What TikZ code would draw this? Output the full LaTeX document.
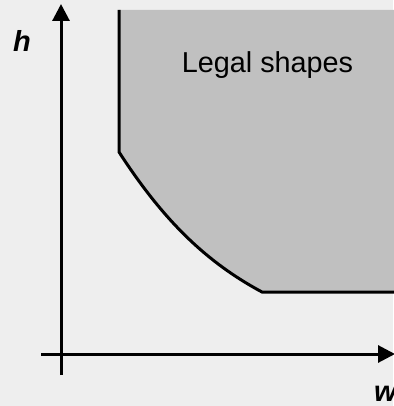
\documentclass[tikz,border=0pt]{standalone}
\usepackage{fontspec}
\setmainfont{Liberation Sans}
\usetikzlibrary{arrows.meta}
\definecolor{bg}{HTML}{EEEEEE}
\definecolor{legal}{HTML}{C0C0C0}
\tikzset{
  axis/.style={line width=3pt, -{Triangle[length=17pt,width=17pt]}},
  border/.style={line width=3pt, line join=miter},
  lbl/.style={font=\fontsize{29}{33}\selectfont\bfseries\itshape, inner sep=0pt},
  title/.style={font=\fontsize{28.8}{33}\selectfont, inner sep=0pt}
}
\begin{document}
\begin{tikzpicture}[x=1pt,y=-1pt]
\fill[bg] (0,0) rectangle (393,406);
\useasboundingbox (0,0) rectangle (393,406);
\fill[legal] (119,10) -- (119,152) .. controls (163,220) and (206,262) .. (262,292) -- (400,292) -- (400,10) -- cycle;
\coordinate (ctop) at (119,10);
\coordinate (cknee) at (119,152);
\coordinate (cfoot) at (262,292);
\coordinate (cend) at (400,292);
\draw[border] (ctop) -- (cknee) .. controls (163,220) and (206,262) .. (cfoot) -- (cend);
\coordinate (ybot) at (61,375);
\coordinate (ytop) at (61,4);
\coordinate (xleft) at (41,354);
\coordinate (xright) at (395,354);
\draw[axis] (ybot) -- (ytop);
\draw[axis] (xleft) -- (xright);
\node[lbl, anchor=base] (h) at (22,52) {h};
\node[lbl, anchor=base west] (w) at (374,401) {w};
\node[title, anchor=base] (legal) at (267.5,73) {Legal shapes};
\end{tikzpicture}
\end{document}
